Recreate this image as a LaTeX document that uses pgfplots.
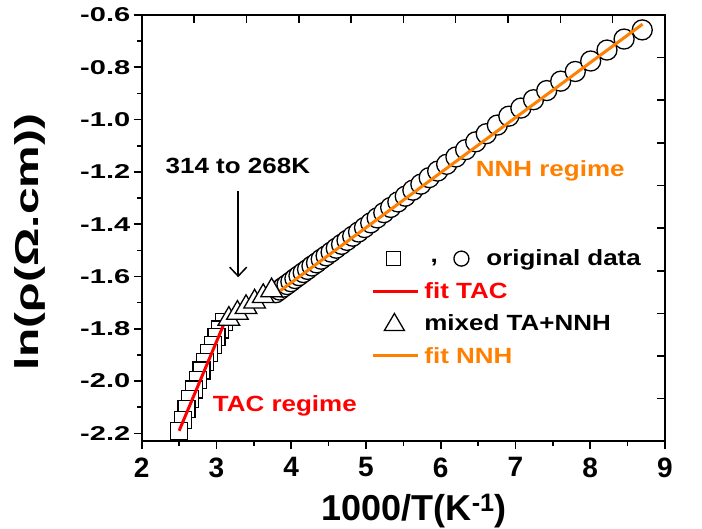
\documentclass[border=0pt]{standalone}
\usepackage{fontspec}
\setmainfont{Liberation Sans}
\newfontfamily\wideA{Liberation Sans}[FakeStretch=1.18]
\newfontfamily\wideB{Liberation Sans}[FakeStretch=1.45]
\usepackage{pgfplots}
\pgfplotsset{compat=1.18}
\usetikzlibrary{arrows.meta}
\definecolor{tacred}{RGB}{255,0,0}
\definecolor{nnhorange}{RGB}{255,128,0}

\newcommand{\annfont}{\wideA\bfseries\fontsize{22bp}{26bp}\selectfont}

\begin{document}
\begin{tikzpicture}
\path[use as bounding box] (-141.7bp,-87bp) rectangle (560bp,441bp);
% top/right frame ticks (independent divisions, as in the original)
\begin{axis}[
    scale only axis, width=523bp, height=426bp,
    xmin=0, xmax=10, ymin=0, ymax=10,
    xtick={1,...,9}, ytick={1,...,9},
    xtick pos=top, ytick pos=right,
    tick align=inside,
    xticklabels={}, yticklabels={},
    axis line style={line width=1.6bp},
    tick style={line width=1.6bp, black},
    major tick length=8bp,
]
\end{axis}
\begin{axis}[
    scale only axis, width=523bp, height=426bp,
    xmin=2, xmax=9, ymin=-2.23, ymax=-0.6,
    clip mode=individual,
    xtick={2,...,9},
    ytick={-2.2,-2.0,-1.8,-1.6,-1.4,-1.2,-1.0,-0.8,-0.6},
    yticklabels={-2.2,-2.0,-1.8,-1.6,-1.4,-1.2,-1.0,-0.8,-0.6},
    minor x tick num=1, minor y tick num=1,
    xtick pos=bottom, ytick pos=left,
    tick align=outside,
    axis line style={line width=1.6bp},
    tick style={line width=1.6bp, black},
    major tick length=8bp, minor tick length=4.5bp,
    /pgf/number format/assume math mode=true,
    xticklabel style={font=\bfseries\fontsize{28bp}{30bp}\selectfont, yshift=-5bp},
    yticklabel style={font=\wideB\bfseries\fontsize{20bp}{22bp}\selectfont},
    xlabel={1000/T(K\textsuperscript{-1})},
    xlabel style={font=\bfseries\fontsize{36bp}{40bp}\selectfont,
        at={(axis description cs:0.5207,-0.186)}, anchor=base},
    ylabel={ln(ρ(Ω.cm))},
    ylabel style={font=\wideB\bfseries\fontsize{33bp}{36bp}\selectfont,
        at={(axis description cs:-0.2136,0.467)}, anchor=center},
    legend style={draw=none, fill=none, font=\annfont,
        at={(axis cs:5.076,-1.49)}, anchor=north west,
        row sep=11bp, inner sep=0pt},
    legend cell align=left,
]
% TAC regime (squares), plotted from the top down
\addplot[only marks, mark=square*, mark size=8.5bp,
    mark options={fill=white, draw=black, line width=1.3bp}, forget plot]
coordinates {
(3.10,-1.775) (3.05,-1.803) (3.00,-1.832) (2.95,-1.862) (2.90,-1.893)
(2.85,-1.926) (2.80,-1.960) (2.75,-1.995) (2.70,-2.032) (2.65,-2.069)
(2.60,-2.108) (2.55,-2.149) (2.50,-2.190)
};
\addplot[tacred, line width=3bp, forget plot]
coordinates {(2.50,-2.19) (3.09,-1.788)};
% NNH regime (circles)
\addplot[only marks, mark=*, mark size=10bp,
    mark options={fill=white, draw=black, line width=1.3bp}, forget plot]
coordinates {
(3.795,-1.662) (3.843,-1.652) (3.893,-1.641) (3.943,-1.631) (3.995,-1.620)
(4.049,-1.608) (4.103,-1.597) (4.160,-1.585) (4.218,-1.573) (4.277,-1.560)
(4.338,-1.548) (4.401,-1.534) (4.466,-1.521) (4.533,-1.507) (4.602,-1.492)
(4.673,-1.477) (4.746,-1.462) (4.822,-1.446) (4.900,-1.430) (4.980,-1.413)
(5.063,-1.395) (5.149,-1.376) (5.238,-1.356) (5.330,-1.336) (5.426,-1.315)
(5.525,-1.293) (5.627,-1.270) (5.734,-1.247) (5.845,-1.222) (5.959,-1.197)
(6.079,-1.171) (6.203,-1.143) (6.333,-1.115) (6.468,-1.085) (6.609,-1.054)
(6.757,-1.021) (6.911,-0.987) (7.072,-0.956) (7.241,-0.924) (7.418,-0.889)
(7.605,-0.853) (7.800,-0.816) (8.006,-0.776) (8.224,-0.734) (8.453,-0.692)
(8.696,-0.657)
};
\addplot[nnhorange, line width=3bp, forget plot]
coordinates {(3.85,-1.655) (8.70,-0.635)};
% mixed TA+NNH (triangles)
\addplot[only marks, mark=triangle*, mark size=12.5bp,
    mark options={fill=white, draw=black, line width=1.3bp}, forget plot]
coordinates {
(3.165,-1.763) (3.280,-1.740) (3.395,-1.718) (3.510,-1.697) (3.625,-1.676)
(3.737,-1.654)
};

% legend
\addlegendimage{legend image code/.code={
    \path[draw=none] (0bp,0bp) -- (49bp,0bp);
    \draw[black, line width=1.3bp, fill=white] (13bp,-7bp) rectangle (27bp,7bp);
    \node[overlay, font=\annfont, inner sep=0pt] at (57bp,-3bp) {,};
    \draw[overlay, black, line width=1.3bp, fill=white] (88bp,0bp) circle (7.5bp);
}}
\addlegendentry{\hspace*{62bp}original data}
\addlegendimage{legend image code/.code={
    \path[draw=none] (0bp,0bp) -- (49bp,0bp);
    \draw[tacred, line width=3bp] (0bp,0bp) -- (45bp,0bp);}}
\addlegendentry{\textcolor{tacred}{fit TAC}}
\addlegendimage{legend image code/.code={
    \path[draw=none] (0bp,0bp) -- (49bp,0bp);
    \draw[black, line width=1.3bp, fill=white, line join=miter]
        (11bp,-7bp) -- (31bp,-7bp) -- (21bp,10bp) -- cycle;
}}
\addlegendentry{mixed TA+NNH}
\addlegendimage{legend image code/.code={
    \path[draw=none] (0bp,0bp) -- (49bp,0bp);
    \draw[nnhorange, line width=3bp] (0bp,0bp) -- (45bp,0bp);}}
\addlegendentry{\textcolor{nnhorange}{fit NNH}}

% annotations
\node[font=\annfont] at (axis cs:3.286,-1.177) {314 to 268K};
\draw[-{Straight Barb[length=9bp,width=17bp]}, line width=1.5bp]
    (axis cs:3.29,-1.272) -- (axis cs:3.29,-1.603);
\node[font=\annfont, text=tacred] at (axis cs:3.914,-2.094) {TAC regime};
\node[font=\annfont, text=nnhorange] at (axis cs:7.465,-1.195) {NNH regime};
\end{axis}
\end{tikzpicture}
\end{document}
